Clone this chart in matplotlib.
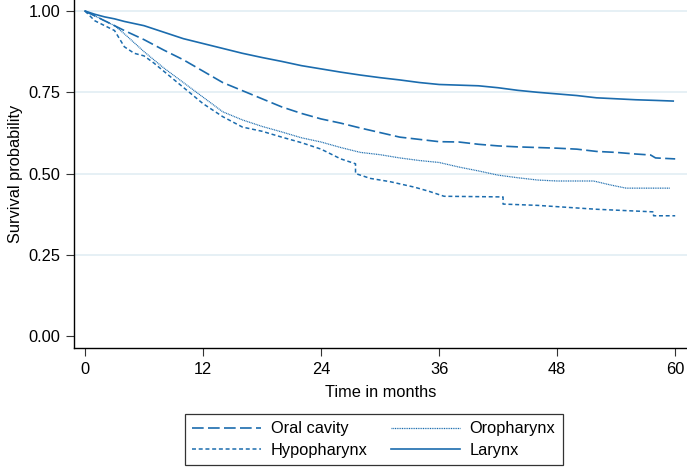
import matplotlib
matplotlib.use("Agg")
import matplotlib.pyplot as plt

plt.rcParams['font.family'] = ['Liberation Sans', 'DejaVu Sans']

# Kaplan-Meier estimates (months, survival);
# repeated times are the visible vertical drops of the step curves
larynx_t = [0, 1, 2, 3, 4, 6, 8, 10, 12, 14, 16, 18, 20, 22, 24, 26, 28, 30, 32, 34, 36,
            38, 40, 42, 44, 46, 48, 50, 52, 54, 56, 58, 59.8]
larynx_s = [1.0, 0.99, 0.982, 0.976, 0.968, 0.955, 0.935, 0.915, 0.90, 0.885, 0.87, 0.857,
            0.845, 0.832, 0.822, 0.812, 0.803, 0.795, 0.788, 0.78, 0.774, 0.772, 0.77, 0.764,
            0.756, 0.75, 0.745, 0.74, 0.733, 0.73, 0.727, 0.725, 0.723]

oral_t = [0, 1, 2, 4, 6, 8, 10, 12, 14, 16, 18, 20, 22, 24, 26, 28, 30, 32, 34, 36, 38, 40,
          42, 44, 46, 48, 50, 52, 54, 56, 57.5, 58, 60]
oral_s = [1.0, 0.985, 0.97, 0.94, 0.912, 0.88, 0.85, 0.815, 0.78, 0.755, 0.73, 0.705, 0.685,
          0.668, 0.655, 0.64, 0.626, 0.612, 0.605, 0.598, 0.597, 0.59, 0.585, 0.582, 0.58,
          0.578, 0.575, 0.568, 0.565, 0.56, 0.557, 0.548, 0.545]

oro_t = [0, 1, 2, 3, 4, 6, 8, 10, 12, 14, 16, 18, 20, 22, 24, 26, 28, 30, 32, 34, 36, 38,
         40, 42, 44, 46, 48, 50, 51.7, 53.4, 55, 59.5]
oro_s = [1.0, 0.985, 0.97, 0.955, 0.93, 0.875, 0.825, 0.78, 0.735, 0.69, 0.665, 0.645,
         0.628, 0.61, 0.597, 0.58, 0.565, 0.558, 0.548, 0.54, 0.534, 0.52, 0.508, 0.495,
         0.487, 0.48, 0.477, 0.477, 0.477, 0.465, 0.455, 0.455]

hypo_t = [0, 1, 2, 3, 4, 5, 6, 7, 8, 9, 10, 11, 12, 13, 14, 16, 18, 20, 22, 24, 26, 27.5,
          27.5, 29, 31, 33.5, 35, 36.5, 42.5, 42.5, 46, 48, 52, 57.8, 57.8, 60]
hypo_s = [1.0, 0.97, 0.955, 0.94, 0.89, 0.87, 0.862, 0.84, 0.815, 0.79, 0.765, 0.74, 0.715,
          0.695, 0.675, 0.643, 0.63, 0.612, 0.595, 0.575, 0.545, 0.53, 0.50, 0.485, 0.475,
          0.458, 0.445, 0.43, 0.428, 0.406, 0.402, 0.398, 0.39, 0.382, 0.37, 0.37]

xticks = [0, 12, 24, 36, 48, 60]
yticks = [0.0, 0.25, 0.5, 0.75, 1.0]

color = '#1b6cae'
fs = 11.8

fig = plt.figure(figsize=(6.87, 4.72), dpi=100)
ax = fig.add_axes([74 / 687, 1 - 347.7 / 472, 1 - 74 / 687, 347.7 / 472])

for y in [0.25, 0.5, 0.75, 1.0]:
    ax.axhline(y, color='#e2edf3', lw=1.2, zorder=0)

l_oral, = ax.plot(oral_t, oral_s, color=color, lw=1.2, dashes=(7, 2.6), label='Oral cavity')
l_hypo, = ax.plot(hypo_t, hypo_s, color=color, lw=1.1, dashes=(2.6, 1.8), label='Hypopharynx')
l_oro, = ax.plot(oro_t, oro_s, color=color, lw=0.9, dashes=(0.8, 0.6), label='Oropharynx')
l_lar, = ax.plot(larynx_t, larynx_s, color=color, lw=1.2, label='Larynx')

ax.set_xlim(-1.12, 61.2)
ax.set_ylim(-0.036, 1.034)
ax.set_xticks(xticks)
ax.set_yticks(yticks)
ax.set_yticklabels([f"{v:.2f}" for v in yticks])
ax.tick_params(direction='out', length=6, width=0.8, labelsize=fs, color='#333333')
ax.tick_params(axis='x', pad=4)
ax.tick_params(axis='y', pad=4)
ax.spines['top'].set_visible(False)
ax.spines['right'].set_visible(False)
ax.spines['left'].set_linewidth(1.0)
ax.spines['bottom'].set_linewidth(1.0)

ax.set_xlabel('Time in months', fontsize=fs, labelpad=6)
ax.set_ylabel('Survival probability', fontsize=fs, labelpad=4)

leg = fig.legend(handles=[l_oral, l_hypo, l_oro, l_lar], ncol=2, loc='upper left',
                 bbox_to_anchor=(185 / 687, 1 - 414 / 472), borderaxespad=0,
                 fontsize=fs, handlelength=4.2, handletextpad=0.6, columnspacing=1.4,
                 frameon=True, fancybox=False, edgecolor='black', borderpad=0.45,
                 labelspacing=0.4)
leg.get_frame().set_linewidth(0.9)

fig.savefig('out.png', dpi=100)
